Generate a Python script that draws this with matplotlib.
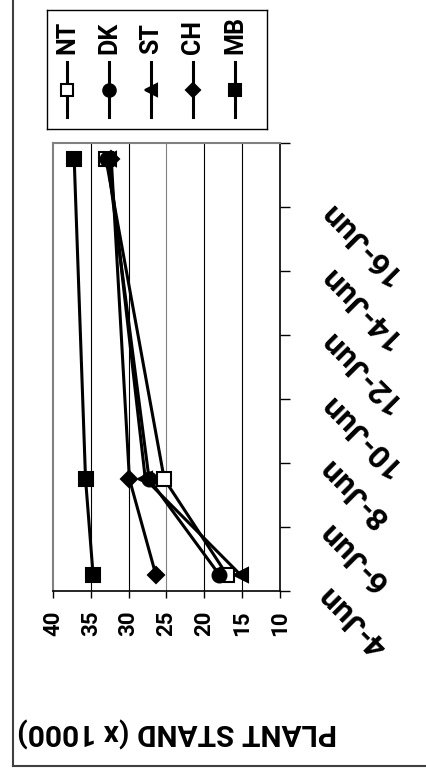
import numpy as np
import matplotlib
matplotlib.use('Agg')
import matplotlib.pyplot as plt
from matplotlib.lines import Line2D

plt.rcParams['font.family'] = ['Roboto', 'DejaVu Sans']
plt.rcParams['font.weight'] = 'bold'

# chart is drawn turned a quarter turn (value axis along the bottom, dates up the right side)
dates = [4, 7, 17]            # June
series = ['NT', 'DK', 'ST', 'CH', 'MB']
nt = [17.0, 25.3, 33.0]
dk = [18.0, 27.3, 32.8]
st = [15.2, 27.8, 32.6]
ch = [26.4, 29.9, 32.3]
mb = [34.7, 35.7, 37.2]
values = [nt, dk, st, ch, mb]

date_ticks = [4, 6, 8, 10, 12, 14, 16, 18]
date_labels = ['4-Jun', '6-Jun', '8-Jun', '10-Jun', '12-Jun', '14-Jun', '16-Jun', '']
value_ticks = [10, 15, 20, 25, 30, 35, 40]

markers = {'NT': 's', 'DK': 'o', 'ST': '<', 'CH': 'D', 'MB': 's'}
faces = {'NT': 'white', 'DK': 'black', 'ST': 'black', 'CH': 'black', 'MB': 'black'}
msize = {'NT': 10, 'DK': 10, 'ST': 10, 'CH': 8, 'MB': 10}

W, H = 427, 771
fig = plt.figure(figsize=(W / 100, H / 100), dpi=100)
ax = fig.add_axes([53 / W, (H - 591) / H, 227 / W, 448 / H])

# excel puts each day in the middle of its cell
pos = np.array(dates) + 0.5
for name, v in zip(series, values):
    ax.plot(v, pos, color='black', lw=2.2, marker=markers[name], ms=msize[name],
            mfc=faces[name], mec='black', mew=1.5, zorder=3)

ax.set_xlim(40, 10)
ax.set_ylim(4, 18)
for g in value_ticks[1:-1]:
    ax.axvline(g, color='#808080' if g == 25 else 'black', lw=0.8, zorder=1)

ax.set_xticks(value_ticks)
ax.set_xticklabels([str(t) for t in value_ticks], rotation=90, fontsize=16,
                   fontweight='bold', va='top', ha='center')
ax.tick_params(axis='x', direction='out', length=5, width=1, pad=9)

ax.yaxis.tick_right()
ax.set_yticks(date_ticks)
ax.set_yticklabels(date_labels, rotation=135, rotation_mode='anchor',
                   ha='right', va='center', fontsize=23, fontweight='bold')
ax.tick_params(axis='y', direction='out', length=7, width=1, pad=24)

for s in ['left', 'top']:
    ax.spines[s].set_color('#808080')
    ax.spines[s].set_linewidth(1.5)
for s in ['right', 'bottom']:
    ax.spines[s].set_color('black')
    ax.spines[s].set_linewidth(1.2)

fig.text(177 / W, (H - 732) / H, 'PLANT STAND (x 1000)', rotation=180,
         rotation_mode='anchor', ha='center', va='center', fontsize=21.5,
         fontweight='bold')

# legend box, entries standing upright
lg = fig.add_axes([47 / W, (H - 129) / H, 220 / W, 119 / H])
lg.set_xlim(0, 5.24)
lg.set_ylim(0, 1)
lg.set_xticks([])
lg.set_yticks([])
for s in lg.spines.values():
    s.set_color('black')
    s.set_linewidth(1)
for i, name in enumerate(series):
    x = 0.48 + i
    lg.plot([x, x], [0.10, 0.56], color='black', lw=2.2)
    lg.plot([x], [0.33], marker=markers[name], ms=msize[name] - 1,
            mfc=faces[name], mec='black', mew=1.5, color='black')
    lg.text(x, 0.63, name, rotation=90, ha='center', va='bottom',
            fontsize=18, fontweight='bold')

# outer chart border (only left and bottom edges show)
fig.add_artist(Line2D([13.5 / W, 13.5 / W], [(H - 766) / H, 1], color='#404040', lw=1.5))
fig.add_artist(Line2D([13.5 / W, 1], [(H - 766) / H, (H - 766) / H], color='#404040', lw=1.5))

fig.savefig('out.png', dpi=100)
